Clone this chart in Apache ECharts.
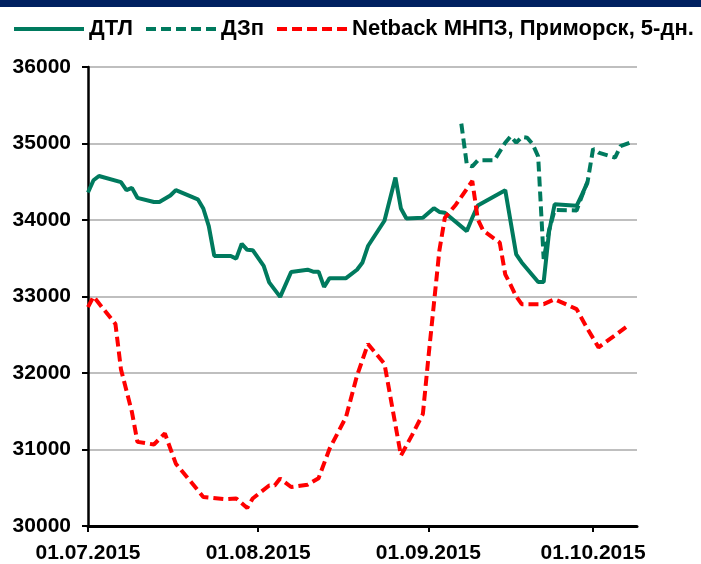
<!DOCTYPE html>
<html>
<head>
<meta charset="utf-8">
<script src="https://cdn.jsdelivr.net/npm/echarts@6/dist/echarts.min.js"></script>
<style>
html,body{margin:0;padding:0;background:#fff;}
#chart{width:701px;height:564px;}
</style>
</head>
<body>
<div id="chart"></div>
<script>
// ---- data ----
var seriesNames = ['ДТЛ', 'ДЗп', 'Netback МНПЗ, Приморск, 5-дн.'];
var tickLabels = ['01.07.2015', '01.08.2015', '01.09.2015', '01.10.2015'];
var axisStart = '2015-07-01';
var axisEnd = '2015-10-09';

var dtlDates = ['2015-07-01','2015-07-02','2015-07-03','2015-07-07','2015-07-08','2015-07-09','2015-07-10',
  '2015-07-13','2015-07-14','2015-07-16','2015-07-17','2015-07-21','2015-07-22','2015-07-23','2015-07-24',
  '2015-07-27','2015-07-28','2015-07-29','2015-07-30','2015-07-31','2015-08-02','2015-08-03','2015-08-05',
  '2015-08-07','2015-08-10','2015-08-11','2015-08-12','2015-08-13','2015-08-14','2015-08-17','2015-08-19',
  '2015-08-20','2015-08-21','2015-08-24','2015-08-26','2015-08-27','2015-08-28','2015-08-31','2015-09-02',
  '2015-09-03','2015-09-04','2015-09-08','2015-09-09','2015-09-10','2015-09-15','2015-09-17','2015-09-18',
  '2015-09-21','2015-09-22','2015-09-23','2015-09-24','2015-09-28','2015-09-29','2015-09-30'];
var dtlValues = [34360,34520,34575,34495,34390,34420,34290,
  34235,34235,34320,34390,34270,34150,33920,33530,
  33530,33495,33690,33610,33605,33400,33185,32995,
  33320,33350,33325,33325,33125,33240,33240,33350,
  33445,33660,33990,34555,34150,34020,34030,34155,
  34105,34095,33855,34030,34190,34390,33550,33445,
  33190,33190,33855,34205,34185,34335,34495];

var dzpDates = ['2015-09-07','2015-09-08','2015-09-09','2015-09-10','2015-09-13','2015-09-15','2015-09-16',
  '2015-09-17','2015-09-18','2015-09-19','2015-09-20','2015-09-21','2015-09-22','2015-09-23','2015-09-24',
  '2015-09-28','2015-09-29','2015-09-30','2015-10-01','2015-10-02','2015-10-05','2015-10-06','2015-10-08'];
var dzpValues = [35260,34725,34700,34780,34780,35010,35095,
  35010,35085,35075,34990,34830,33490,33870,34130,
  34125,34320,34500,34930,34880,34815,34965,35020];

var netDates = ['2015-07-01','2015-07-02','2015-07-06','2015-07-07','2015-07-09','2015-07-10','2015-07-13',
  '2015-07-15','2015-07-17','2015-07-20','2015-07-22','2015-07-26','2015-07-28','2015-07-30','2015-07-31',
  '2015-08-03','2015-08-04','2015-08-05','2015-08-07','2015-08-10','2015-08-12','2015-08-14','2015-08-17',
  '2015-08-19','2015-08-21','2015-08-24','2015-08-27','2015-08-29','2015-08-31','2015-09-01','2015-09-02',
  '2015-09-03','2015-09-04','2015-09-06','2015-09-09','2015-09-10','2015-09-11','2015-09-14','2015-09-15',
  '2015-09-16','2015-09-17','2015-09-18','2015-09-22','2015-09-24','2015-09-28','2015-09-30','2015-10-02',
  '2015-10-07'];
var netValues = [32860,33000,32640,32050,31490,31100,31065,
  31210,30815,30555,30380,30350,30360,30235,30360,
  30530,30530,30620,30510,30540,30625,31010,31425,
  31965,32380,32120,30920,31185,31465,32200,32900,
  33600,34030,34200,34510,34010,33860,33705,33290,
  33150,33000,32900,32900,32965,32835,32575,32335,
  32600];

// ---- helpers: dates -> day offset from axisStart ----
var DAY = 86400000;
function utc(s){ var p = s.split('-'); return Date.UTC(+p[0], +p[1]-1, +p[2]); }
var t0 = utc(axisStart);
function dayOf(s){ return Math.round((utc(s) - t0) / DAY); }
function pair(dates, vals){ return dates.map(function(d,i){ return [dayOf(d), vals[i]]; }); }
var tickDays = tickLabels.map(function(t){ var p=t.split('.'); return dayOf(p[2]+'-'+p[1]+'-'+p[0]); });
function fmt(v){ var i = tickDays.indexOf(Math.round(v)); return i >= 0 ? tickLabels[i] : ''; }

var GREEN = '#007A5E', RED = '#FF0000';
var FONT = "'Liberation Sans', Arial, sans-serif";

var chart = echarts.init(document.getElementById('chart'), null, {renderer:'canvas'});
chart.setOption({
  animation: false,
  backgroundColor: '#ffffff',
  graphic: [{ type:'rect', left:0, top:0, shape:{width:701, height:7}, style:{fill:'#002060'} }],
  legend: {
    left: 7, top: 13, width: 760, itemWidth: 70, itemHeight: 14, itemGap: 11,
    itemStyle: { opacity: 0 },
    lineStyle: { width: 4 },
    textStyle: { fontFamily: FONT, fontSize: 22, fontWeight: 'bold', color: '#000' },
    data: seriesNames
  },
  grid: { left: 88, right: 64, top: 67, bottom: 37, containLabel: false },
  xAxis: {
    type: 'value', min: 0, max: dayOf(axisEnd),
    axisLine: { lineStyle: { color: '#000', width: 3 } },
    axisTick: { show: true, length: 6, lineStyle: { color:'#000', width: 2 }, customValues: tickDays },
    axisLabel: { customValues: tickDays, formatter: function(v){ return fmt(v); }, margin: 17,
      fontFamily: FONT, fontSize: 21, fontWeight: 'bold', color: '#000' },
    splitLine: { show: false }
  },
  yAxis: {
    type: 'value', min: 30000, max: 36000, interval: 1000,
    axisLine: { show: true, lineStyle: { color: '#000', width: 2.5 } },
    axisTick: { show: true, length: 6, lineStyle: { color:'#000', width: 2 } },
    axisLabel: { margin: 17, fontFamily: FONT, fontSize: 21, fontWeight: 'bold', color: '#000',
      formatter: function(v){ return String(v); } },
    splitLine: { show: true, lineStyle: { color: '#BFBFBF', width: 2 } }
  },
  series: [
    { name: seriesNames[0], type: 'line', symbol: 'none', data: pair(dtlDates, dtlValues),
      lineStyle: { color: GREEN, width: 4 }, itemStyle: { color: GREEN } },
    { name: seriesNames[1], type: 'line', symbol: 'none', data: pair(dzpDates, dzpValues),
      lineStyle: { color: GREEN, width: 4, type: [10,5] }, itemStyle: { color: GREEN } },
    { name: seriesNames[2], type: 'line', symbol: 'none', data: pair(netDates, netValues),
      lineStyle: { color: RED, width: 4, type: [10,5] }, itemStyle: { color: RED } }
  ]
});
</script>
</body>
</html>
